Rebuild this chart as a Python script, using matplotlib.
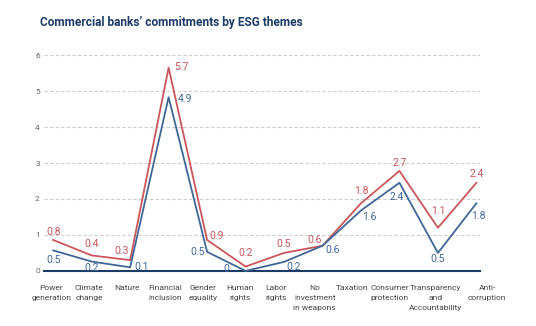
import matplotlib
matplotlib.use("Agg")
import matplotlib.pyplot as plt
from matplotlib.transforms import blended_transform_factory

plt.rcParams['font.family'] = ['Roboto', 'DejaVu Sans']

themes = ["Power\ngeneration", "Climate\nchange", "Nature", "Financial\ninclusion",
          "Gender\nequality", "Human\nrights", "Labor\nrights",
          "No\ninvestment\nin weapons", "Taxation", "Consumer\nprotection",
          "Transparency\nand\nAccountability", "Anti-\ncorruption"]
red_vals = [0.86, 0.43, 0.3, 5.65, 0.86, 0.12, 0.5, 0.7, 1.88, 2.78, 1.2, 2.45]
blue_vals = [0.57, 0.26, 0.1, 4.83, 0.53, 0.0, 0.25, 0.7, 1.68, 2.45, 0.5, 1.88]
red_labels = ["0.8", "0.4", "0.3", "5.7", "0.9", "0.2", "0.5", "0.6", "1.8", "2.7", "1.1", "2.4"]
blue_labels = ["0.5", "0.2", "0.1", "4.9", "0.5", "0", "0.2", "0.6", "1.6", "2.4", "0.5", "1.8"]

# label offsets in points (dx, dy)
red_off = [(0, 6), (0, 8.5), (-6, 6.5), (9, 0.5), (7, 3), (0, 10), (0, 6.5), (-6, 4), (0, 8.5), (0, 6), (0, 12), (0, 6.5)]
blue_off = [(0, -7), (0, -4.5), (8.5, 0), (12, -1.5), (-7, 0), (-14, 1.5), (7, -3.5), (7, -3), (6, -5), (-2, -10), (0, -4.5), (1.5, -9)]
# horizontal centres of the category labels (they are not evenly placed in the original)
label_x = [-0.05, 0.93, 1.92, 2.9, 3.89, 4.85, 5.8, 6.8, 7.76, 8.74, 9.94, 11.28]

red = "#c9565a"
blue = "#3f6797"
navy = "#1c3b66"

fig = plt.figure(figsize=(5.36, 3.26), dpi=100)
ax = fig.add_axes([0.082, 0.169, 0.814, 0.662])
x = list(range(len(themes)))

ax.plot(x, red_vals, color=red, lw=1.3, clip_on=False, zorder=3)
ax.plot(x, blue_vals, color=blue, lw=1.3, clip_on=False, zorder=3)

for i in x:
    ax.annotate(red_labels[i], (i, red_vals[i]), xytext=red_off[i], textcoords="offset points",
                ha="center", va="center", color=red, fontsize=7.5)
    ax.annotate(blue_labels[i], (i, blue_vals[i]), xytext=blue_off[i], textcoords="offset points",
                ha="center", va="center", color=blue, fontsize=7.5)

ax.set_xlim(-0.24, 11.1)
ax.set_ylim(0, 6)
ax.set_yticks(range(0, 7))
ax.yaxis.grid(True, linestyle=(0, (3, 2)), color="#cccccc", lw=0.8)
ax.set_axisbelow(True)
for s in ["top", "right", "left"]:
    ax.spines[s].set_visible(False)
ax.spines["bottom"].set_color(navy)
ax.spines["bottom"].set_linewidth(1.5)
ax.tick_params(axis="y", length=0, labelsize=6, labelcolor="#666666", pad=3)
ax.set_xticks([])

trans = blended_transform_factory(ax.transData, fig.transFigure)
for lx, name in zip(label_x, themes):
    ax.text(lx, 0.125, name, transform=trans, ha="center", va="top", fontsize=6,
            color="#444444", linespacing=1.8, clip_on=False)

fig.text(0.075, 0.932, "Commercial banks\u2019 commitments by ESG themes", fontsize=8.6,
         fontweight="bold", color=navy, va="center")

fig.savefig("out.png", dpi=100)
